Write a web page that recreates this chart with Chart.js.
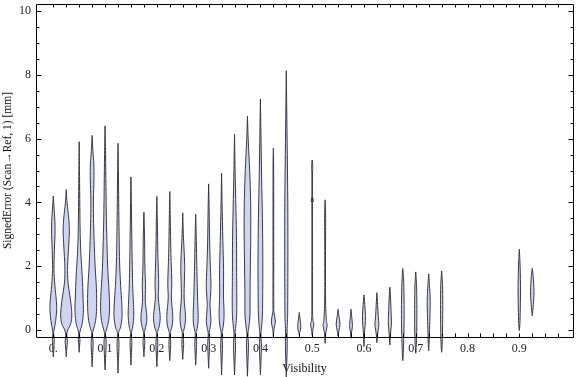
<!DOCTYPE html>
<html>
<head>
<meta charset="utf-8">
<script src="https://cdn.jsdelivr.net/npm/chart.js@4.4.0/dist/chart.umd.min.js"></script>
<style>
  html, body { margin: 0; padding: 0; background: #fff; }
  #wrap { width: 576px; height: 377px; }
</style>
</head>
<body>
<div id="wrap"><canvas id="violin-chart"></canvas></div>
<script>
// one violin per visibility bin
const visibility = [0, 0.025, 0.05, 0.075, 0.1, 0.125, 0.15, 0.175, 0.2, 0.225, 0.25, 0.275, 0.3, 0.325, 0.35, 0.375, 0.4, 0.425, 0.45, 0.475, 0.5, 0.525, 0.55, 0.575, 0.6, 0.625, 0.65, 0.675, 0.7, 0.725, 0.75, 0.9, 0.925];

const errorMax = [4.2, 4.4, 5.9, 6.1, 6.4, 5.85, 4.8, 3.69, 4.19, 4.34, 3.67, 3.63, 4.58, 4.91, 6.14, 6.71, 7.24, 5.7, 8.13, 0.55, 5.33, 4.08, 0.65, 0.65, 1.1, 1.17, 1.34, 1.93, 1.82, 1.76, 1.85, 2.53, 1.93];

const errorMin = [-0.84, -0.84, -0.7, -1.15, -1.25, -1.35, -1.1, -0.84, -1.15, -0.96, -0.92, -1.1, -1.2, -1.41, -1.41, -1.45, -1.4, -0.2, -1.47, -0.15, -0.16, -0.42, -0.19, -0.26, -0.52, -0.4, -0.47, -0.96, -0.73, -0.65, -0.7, -0.02, 0.45];

// [signed error, relative density], from top to bottom of each violin
const density = [
  [[3.9, 0.6], [3.4, 1.6], [3.0, 1.7], [2.5, 1.1], [1.9, 0.7], [1.4, 1.6], [0.9, 3.1], [0.6, 3.3], [0.3, 2.4], [0.0, 0.8], [-0.12, 0.4], [-0.3, 0.9], [-0.6, 0.5]],
  [[4.0, 0.8], [3.5, 2.5], [3.1, 3.1], [2.6, 2.4], [2.0, 1.4], [1.5, 1.7], [1.0, 4.0], [0.5, 5.6], [0.2, 4.5], [0.0, 1.5], [-0.15, 0.5], [-0.35, 1.1], [-0.6, 0.5]],
  [[5.0, 0.3], [3.2, 0.9], [2.4, 1.7], [1.7, 3.0], [1.0, 3.9], [0.55, 4.2], [0.2, 3.0], [0.0, 1.2], [-0.12, 0.4], [-0.3, 0.8], [-0.5, 0.4]],
  [[5.6, 0.8], [5.2, 1.7], [4.7, 1.8], [4.1, 1.3], [3.5, 1.4], [2.8, 2.0], [2.0, 3.0], [1.3, 4.3], [0.7, 4.5], [0.3, 3.5], [0.0, 1.2], [-0.12, 0.4], [-0.4, 1.0], [-0.8, 0.5]],
  [[5.5, 0.5], [4.5, 0.9], [3.5, 1.3], [2.6, 2.0], [1.9, 2.7], [1.2, 4.0], [0.7, 4.5], [0.3, 3.6], [0.0, 1.3], [-0.12, 0.4], [-0.4, 1.1], [-0.9, 0.5]],
  [[5.0, 0.4], [4.0, 0.7], [3.0, 1.1], [2.1, 1.6], [1.4, 2.6], [0.8, 3.8], [0.4, 4.0], [0.1, 2.6], [-0.05, 0.9], [-0.15, 0.4], [-0.45, 1.0], [-0.9, 0.5]],
  [[4.0, 0.4], [3.0, 0.8], [2.0, 1.3], [1.3, 1.8], [0.8, 2.5], [0.45, 2.8], [0.15, 2.0], [-0.05, 0.7], [-0.15, 0.4], [-0.4, 0.9], [-0.8, 0.4]],
  [[3.0, 0.6], [2.0, 1.0], [1.4, 1.6], [0.9, 1.4], [0.45, 2.9], [0.2, 2.5], [-0.02, 0.8], [-0.15, 0.4], [-0.4, 0.9], [-0.65, 0.4]],
  [[3.4, 0.5], [2.4, 1.0], [1.5, 1.8], [1.0, 1.5], [0.45, 3.3], [0.15, 2.6], [-0.05, 0.7], [-0.15, 0.4], [-0.45, 0.9], [-0.85, 0.4]],
  [[3.5, 0.5], [2.4, 1.1], [1.5, 2.0], [1.0, 1.6], [0.45, 3.0], [0.15, 2.4], [-0.05, 0.7], [-0.15, 0.4], [-0.45, 0.9], [-0.75, 0.4]],
  [[3.0, 0.6], [2.1, 1.9], [1.6, 1.7], [1.0, 1.4], [0.45, 2.7], [0.15, 2.2], [-0.05, 0.7], [-0.15, 0.4], [-0.45, 0.9], [-0.7, 0.4]],
  [[3.0, 0.5], [2.2, 1.0], [1.5, 1.5], [0.9, 2.0], [0.45, 2.5], [0.15, 2.0], [-0.05, 0.7], [-0.15, 0.4], [-0.45, 0.9], [-0.85, 0.4]],
  [[3.8, 0.5], [2.6, 1.1], [1.4, 2.3], [0.8, 1.4], [0.3, 2.3], [0.05, 1.3], [-0.12, 0.4], [-0.45, 0.9], [-0.9, 0.4]],
  [[4.0, 0.5], [2.8, 1.3], [1.9, 2.0], [1.1, 1.9], [0.5, 2.5], [0.15, 1.8], [-0.05, 0.6], [-0.15, 0.4], [-0.5, 0.9], [-1.0, 0.4]],
  [[5.0, 0.6], [3.8, 1.4], [2.8, 2.0], [1.8, 2.1], [0.9, 2.3], [0.4, 2.0], [0.05, 1.0], [-0.12, 0.5], [-0.5, 1.0], [-1.0, 0.5]],
  [[6.0, 0.7], [5.0, 2.2], [4.0, 3.2], [3.0, 3.3], [2.0, 2.9], [1.2, 2.6], [0.5, 2.5], [0.1, 1.4], [-0.12, 0.5], [-0.5, 1.0], [-1.0, 0.5]],
  [[6.2, 0.5], [4.8, 1.2], [3.5, 2.0], [2.2, 2.4], [1.2, 2.3], [0.5, 2.0], [0.1, 1.2], [-0.12, 0.5], [-0.5, 1.0], [-1.0, 0.5]],
  [[5.0, 0.3], [2.0, 0.35], [0.8, 0.4], [0.55, 0.6], [0.28, 2.0], [0.05, 0.8], [-0.08, 0.3]],
  [[7.0, 0.4], [5.5, 1.0], [4.0, 1.5], [2.5, 1.6], [1.2, 1.5], [0.4, 1.3], [0.0, 0.8], [-0.5, 0.9], [-1.0, 0.5]],
  [[0.4, 0.6], [0.15, 1.5], [0.0, 1.2], [-0.08, 0.4]],
  [[5.1, 0.6], [4.9, 0.3], [4.15, 0.3], [4.02, 0.9], [3.9, 0.3], [1.0, 0.3], [0.35, 0.6], [0.19, 1.6], [0.05, 0.9], [-0.08, 0.3]],
  [[3.6, 0.5], [2.5, 0.35], [1.0, 0.4], [0.35, 1.2], [0.12, 2.0], [-0.05, 0.8], [-0.2, 0.4]],
  [[0.45, 0.8], [0.18, 1.9], [0.0, 1.0], [-0.1, 0.3]],
  [[0.45, 0.6], [0.15, 1.4], [0.0, 0.9], [-0.12, 0.3]],
  [[0.8, 0.8], [0.45, 1.5], [0.15, 1.2], [-0.1, 0.5], [-0.3, 0.4]],
  [[0.8, 0.7], [0.45, 1.3], [0.18, 2.0], [0.0, 1.2], [-0.2, 0.4]],
  [[1.0, 0.7], [0.5, 1.3], [0.22, 1.6], [0.0, 1.0], [-0.25, 0.4]],
  [[1.5, 0.9], [0.8, 1.3], [0.2, 1.3], [-0.3, 0.9], [-0.7, 0.5]],
  [[1.4, 0.8], [0.8, 1.1], [0.2, 1.1], [-0.3, 0.8], [-0.55, 0.4]],
  [[1.3, 1.0], [0.9, 1.5], [0.4, 1.2], [-0.1, 0.7], [-0.45, 0.4]],
  [[1.4, 0.9], [0.8, 1.1], [0.2, 1.0], [-0.3, 0.7], [-0.55, 0.4]],
  [[2.1, 0.7], [1.4, 1.2], [0.7, 1.0], [0.2, 0.6]],
  [[1.7, 0.9], [1.2, 1.7], [0.8, 1.1]]
];

const xTickValues = [0, 0.1, 0.2, 0.3, 0.4, 0.5, 0.6, 0.7, 0.8, 0.9];
const xTickLabels = ["0.", "0.1", "0.2", "0.3", "0.4", "0.5", "0.6", "0.7", "0.8", "0.9"];
const yTickValues = [0, 2, 4, 6, 8, 10];

const densityToX = 0.00193;
const fillColor = "#cdd4f4";
const edgeColor = "rgba(48,48,60,0.95)";

// catmull-rom through the points, control x kept on one side of the centre
function smoothSide(ctx, pts, cx, side) {
  for (let i = 0; i < pts.length - 1; i++) {
    const p0 = pts[i - 1] || pts[i];
    const p1 = pts[i];
    const p2 = pts[i + 1];
    const p3 = pts[i + 2] || p2;
    let c1x = p1.x + (p2.x - p0.x) / 6;
    let c2x = p2.x - (p3.x - p1.x) / 6;
    if (side > 0) {
      c1x = Math.max(c1x, cx);
      c2x = Math.max(c2x, cx);
    } else {
      c1x = Math.min(c1x, cx);
      c2x = Math.min(c2x, cx);
    }
    ctx.bezierCurveTo(c1x, p1.y + (p2.y - p0.y) / 6, c2x, p2.y - (p3.y - p1.y) / 6, p2.x, p2.y);
  }
}

const violinPlugin = {
  id: "violins",
  beforeDatasetsDraw(chart) {
    const ctx = chart.ctx;
    const xs = chart.scales.x;
    const ys = chart.scales.y;

    ctx.save();
    visibility.forEach(function (vis, i) {
      const cx = xs.getPixelForValue(vis);
      const right = [{ x: cx, y: ys.getPixelForValue(errorMax[i]) }];
      const left = [{ x: cx, y: ys.getPixelForValue(errorMin[i]) }];

      density[i].forEach(function (p) {
        right.push({ x: xs.getPixelForValue(vis + p[1] * densityToX), y: ys.getPixelForValue(p[0]) });
      });
      right.push({ x: cx, y: ys.getPixelForValue(errorMin[i]) });

      for (let k = density[i].length - 1; k >= 0; k--) {
        const p = density[i][k];
        left.push({ x: xs.getPixelForValue(vis - p[1] * densityToX), y: ys.getPixelForValue(p[0]) });
      }
      left.push({ x: cx, y: ys.getPixelForValue(errorMax[i]) });

      ctx.beginPath();
      ctx.moveTo(right[0].x, right[0].y);
      smoothSide(ctx, right, cx, 1);
      smoothSide(ctx, left, cx, -1);
      ctx.closePath();
      ctx.fillStyle = fillColor;
      ctx.fill();
      ctx.lineWidth = 1;
      ctx.strokeStyle = edgeColor;
      ctx.stroke();
    });
    ctx.restore();
  },

  afterDatasetsDraw(chart) {
    const ctx = chart.ctx;
    const area = chart.chartArea;
    const xs = chart.scales.x;
    const ys = chart.scales.y;
    const l = Math.round(area.left) + 0.5;
    const r = Math.round(area.right) + 0.5;
    const t = Math.round(area.top) + 0.5;
    const b = Math.round(area.bottom) + 0.5;

    ctx.save();
    ctx.strokeStyle = "#000";
    ctx.lineWidth = 1;
    ctx.beginPath();

    for (let v = 0; v <= 10; v += 0.5) {
      const y = Math.round(ys.getPixelForValue(v)) + 0.5;
      const len = v % 2 === 0 ? 5 : 3;
      ctx.moveTo(l, y);
      ctx.lineTo(l + len, y);
      ctx.moveTo(r, y);
      ctx.lineTo(r - len, y);
    }

    for (let k = 0; k < 40; k++) {
      const x = Math.round(xs.getPixelForValue(k * 0.025)) + 0.5;
      ctx.moveTo(x, b);
      ctx.lineTo(x, b - 4);
      ctx.moveTo(x, t);
      ctx.lineTo(x, t + 3);
    }

    ctx.rect(l, t, r - l, b - t);
    ctx.stroke();
    ctx.restore();
  }
};

const tickFont = { family: "'Liberation Serif', 'Times New Roman', serif", size: 12 };
const titleFont = { family: "'Liberation Serif', 'Times New Roman', serif", size: 11.5 };

new Chart(document.getElementById("violin-chart"), {
  type: "scatter",
  data: {
    datasets: [
      {
        data: visibility.map(function (v, i) {
          return { x: v, y: errorMax[i] };
        }),
        pointRadius: 0,
        showLine: false
      }
    ]
  },
  plugins: [violinPlugin],
  options: {
    responsive: true,
    maintainAspectRatio: false,
    animation: false,
    layout: {
      padding: { top: 4, right: 3, left: 0, bottom: 0 }
    },
    plugins: {
      legend: { display: false },
      tooltip: { enabled: false }
    },
    scales: {
      x: {
        type: "linear",
        min: -0.0334,
        max: 1.0037,
        grid: { display: false, drawTicks: false },
        border: { display: false },
        afterBuildTicks: function (scale) {
          scale.ticks = xTickValues.map(function (v) {
            return { value: v };
          });
        },
        afterFit: function (scale) {
          scale.height = 40;
          scale.paddingLeft = 0;
          scale.paddingRight = 0;
        },
        ticks: {
          autoSkip: false,
          maxRotation: 0,
          padding: 5,
          color: "#222",
          font: tickFont,
          callback: function (value, index) {
            return xTickLabels[index];
          }
        },
        title: {
          display: true,
          text: "Visibility",
          color: "#111",
          font: tickFont,
          padding: { top: 0, bottom: 1 }
        }
      },
      y: {
        type: "linear",
        min: -0.22,
        max: 10.22,
        grid: { display: false, drawTicks: false },
        border: { display: false },
        afterBuildTicks: function (scale) {
          scale.ticks = yTickValues.map(function (v) {
            return { value: v };
          });
        },
        afterFit: function (scale) {
          scale.width = 36;
          scale.paddingTop = 0;
          scale.paddingBottom = 0;
        },
        ticks: {
          padding: 5,
          color: "#222",
          font: tickFont
        },
        title: {
          display: true,
          text: "SignedError (Scan\u2192Ref, 1) [mm]",
          color: "#111",
          font: titleFont,
          padding: { top: 1, bottom: 0 }
        }
      }
    }
  }
});
</script>
</body>
</html>
